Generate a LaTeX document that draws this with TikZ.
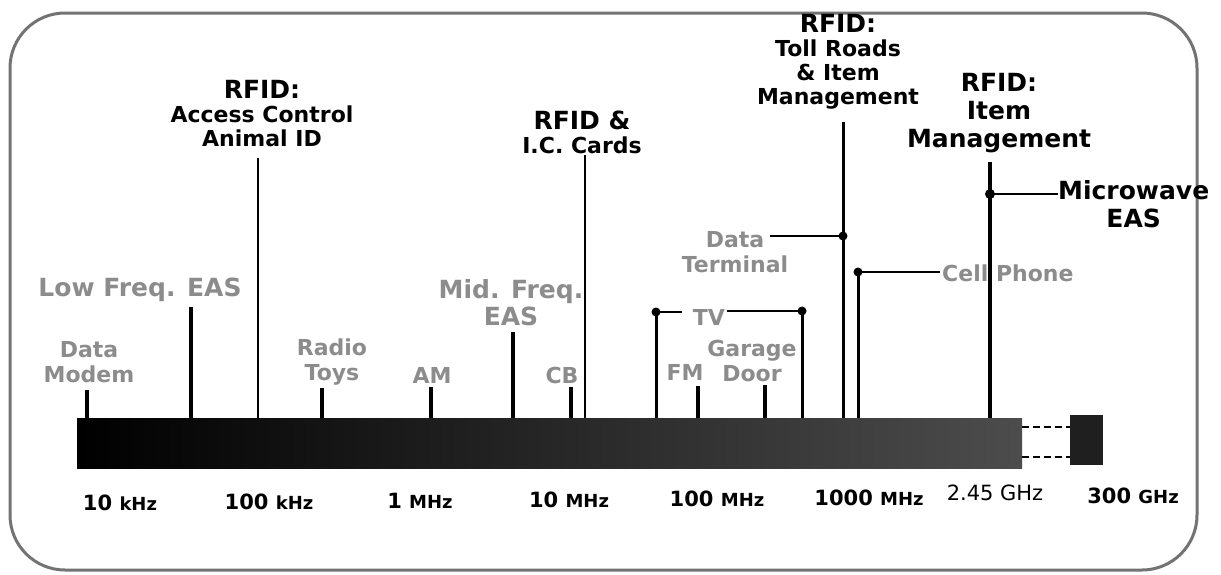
\documentclass[tikz,border=0pt]{standalone}
\usepackage{fontspec}
\setmainfont{DejaVu Sans}
\usepackage{tikz}
\definecolor{faint}{gray}{0.55}
\definecolor{framegray}{gray}{0.45}

\begin{document}
\begin{tikzpicture}[x=1pt,y=-1pt,
  tick/.style={line width=3.5pt},
  rfidline/.style={line width=2.5pt},
  leader/.style={line width=1.5pt},
  blk/.style={font={\fontsize{22}{24}\selectfont\bfseries}, align=center, inner sep=2pt},
  bigblk/.style={font={\fontsize{25}{28}\selectfont\bfseries}, align=center, inner sep=2pt},
  faintlbl/.style={font={\fontsize{22}{25}\selectfont\bfseries}, align=center, inner sep=2pt, text=faint},
  bigfaint/.style={faintlbl, font={\fontsize{25}{27}\selectfont\bfseries}},
  freq/.style={anchor=base, inner sep=0pt, font={\fontsize{21}{21}\selectfont\bfseries}},
  band/.style={minimum width=945pt, minimum height=50pt, inner sep=0pt, left color=black, right color=black!70}]
  \useasboundingbox (0,0) rectangle (1221,574);
  \fill[white] (0,0) rectangle (1221,574);
  % outer frame
  \draw[framegray, line width=3pt, rounded corners=55pt] (10,13) rectangle (1197,570);

  % spectrum band and the far end block
  \node[band] (band) at (549.5,443) {};
  \node[minimum width=33pt, minimum height=50pt, inner sep=0pt, fill=black!88] (mwblk) at (1086.5,440) {};
  \draw[line width=1.8pt, dash pattern=on 7pt off 4pt] (band.east |- 0,427) -- (mwblk.west |- 0,427);
  \draw[line width=1.8pt, dash pattern=on 7pt off 4pt] (band.east |- 0,457) -- (mwblk.west |- 0,457);

  % frequency scale
  \node[freq] (f10k)  at (120,510) {10 {\fontsize{18}{18}\selectfont kHz}};
  \node[freq] (f100k) at (269,509) {100 {\fontsize{18}{18}\selectfont kHz}};
  \node[freq] (f1M)   at (420,508) {1 {\fontsize{18}{18}\selectfont MHz}};
  \node[freq] (f10M)  at (569,507) {10 {\fontsize{18}{18}\selectfont MHz}};
  \node[freq] (f100M) at (717,506) {100 {\fontsize{18}{18}\selectfont MHz}};
  \node[freq] (f1G)   at (869,505) {1000 {\fontsize{18}{18}\selectfont MHz}};
  \node[freq, font={\fontsize{21}{21}\selectfont}] (f245G) at (995,500) {2.45 GHz};
  \node[freq] (f300G) at (1133,503) {300 {\fontsize{18}{18}\selectfont GHz}};

  % other services (grey)
  \node[faintlbl] (modem)  at (89,362)  {Data\\Modem};
  \node[bigfaint] (lowEAS) at (140,290) {Low Freq. EAS};
  \node[faintlbl] (toys)   at (332,362) {Radio\\Toys};
  \node[faintlbl] (am)     at (432,375) {AM};
  \node[bigfaint] (midEAS) at (511,303) {Mid. Freq.\\EAS};
  \node[faintlbl] (cb)     at (562,375) {CB};
  \node[faintlbl] (fm)     at (685,372) {FM};
  \node[faintlbl] (garage) at (752,361) {Garage\\Door};
  \node[faintlbl] (tv)     at (709,317) {TV};
  \node[faintlbl] (term)   at (735,252) {Data\\Terminal};
  \node[faintlbl, anchor=west] (cell) at (940,273) {Cell Phone};

  % short ticks on the band
  \foreach \x/\t [count=\i] in {87/390, 191/307, 322/388, 431/387, 513/332, 571/387, 698/386, 765/385} {
    \coordinate (tk\i) at (\x,\t);
    \draw[tick] (tk\i) -- (tk\i |- band.north);
  }

  % RFID bands (black)
  \node[blk] (rfidAC) at (262,114) {{\fontsize{25}{28}\selectfont RFID:}\\Access Control\\Animal ID};
  \node[blk] (rfidIC) at (582,132) {{\fontsize{25}{28}\selectfont RFID \&}\\I.C. Cards};
  \node[blk] (rfidTR) at (838,62) {{\fontsize{25}{28}\selectfont RFID:}\\Toll Roads\\\& Item\\Management};
  \node[bigblk] (rfidIM) at (999,113) {RFID:\\Item\\Management};
  \node[bigblk, anchor=north west, inner sep=0pt] (mwEAS) at (1058,180) {Microwave\\EAS};

  \coordinate (lAC) at (258,158);
  \coordinate (lIC) at (585,155);
  \coordinate (lTR) at (843,122);
  \coordinate (lIM) at (990,162);
  \draw[rfidline] (lAC) -- (lAC |- band.north);
  \draw[rfidline] (lIC) -- (lIC |- band.north);
  \draw[line width=3pt] (lTR) -- (lTR |- band.north);
  \draw[line width=4.5pt] (lIM) -- (lIM |- band.north);

  % TV
  \coordinate (tvL) at (656,312);
  \coordinate (tvR) at (802,311);
  \draw[line width=3pt] (tvL) -- (tvL |- band.north);
  \draw[line width=3pt] (tvR) -- (tvR |- band.north);
  \fill (tvL) circle (4.5pt);
  \fill (tvR) circle (4.5pt);
  \draw[leader] (tvL) -- ([xshift=-9pt]tv.west |- tvL);
  \draw[leader] (tvR) -- (tv.east |- tvR);

  % data terminal on the toll roads line
  \coordinate (dTR) at (843,236);
  \coordinate (dTerm) at (770,236);
  \fill (dTR) circle (4.5pt);
  \draw[leader] (dTerm) -- (dTR);

  % cell phone
  \coordinate (dCell) at (858,272);
  \draw[line width=3pt] (dCell) -- (dCell |- band.north);
  \fill (dCell) circle (4.5pt);
  \draw[leader] (dCell) -- (cell.west |- dCell);

  % microwave EAS on the item management line
  \coordinate (dMW) at (990,194);
  \fill (dMW) circle (5pt);
  \draw[leader] (dMW) -- (mwEAS.west |- dMW);
\end{tikzpicture}
\end{document}
